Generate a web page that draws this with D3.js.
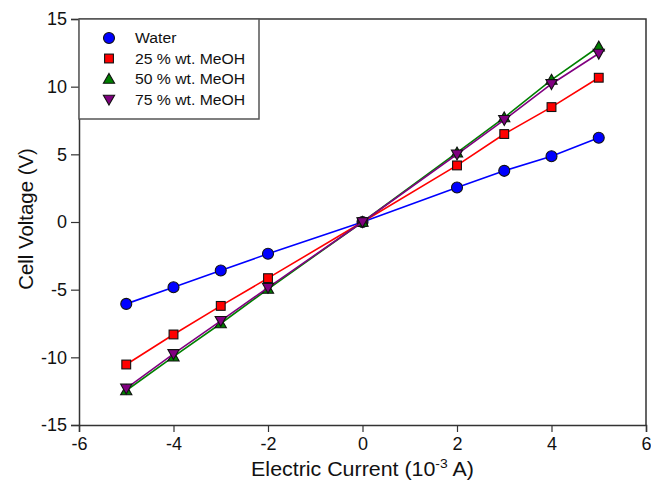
<!DOCTYPE html>
<html>
<head>
<meta charset="utf-8">
<script src="https://cdn.jsdelivr.net/npm/d3@7"></script>
<style>
  body { margin: 0; background: #fff; }
  text { font-family: "Liberation Sans", Arial, sans-serif; }
</style>
</head>
<body>
<div id="chart"></div>
<script>
// Data
const current = [-5, -4, -3, -2, 0, 2, 3, 4, 5];
const water   = [-6.05, -4.82, -3.58, -2.35, 0, 2.55, 3.78, 4.86, 6.22];
const meoh25  = [-10.53, -8.31, -6.2, -4.15, 0, 4.18, 6.5, 8.49, 10.66];
const meoh50  = [-12.45, -9.95, -7.5, -4.95, 0, 5.12, 7.72, 10.5, 12.95];
const meoh75  = [-12.3, -9.75, -7.3, -4.85, 0, 5.0, 7.55, 10.2, 12.45];
const seriesNames = ["Water", "25 % wt. MeOH", "50 % wt. MeOH", "75 % wt. MeOH"];
const xTicks = [-6, -4, -2, 0, 2, 4, 6];
const yTicks = [-15, -10, -5, 0, 5, 10, 15];

const width = 651, height = 485;
const margin = {top: 19, left: 79, right: 5, bottom: 60};

const svg = d3.select("#chart").append("svg")
  .attr("width", width)
  .attr("height", height);

const x = d3.scaleLinear().domain([-6, 6]).range([margin.left, width - margin.right]);
const y = d3.scaleLinear().domain([-15, 15]).range([height - margin.bottom, margin.top]);

const series = [
  {name: seriesNames[0], values: water,  color: "#0000ff", symbol: "circle"},
  {name: seriesNames[1], values: meoh25, color: "#ff0000", symbol: "square"},
  {name: seriesNames[2], values: meoh50, color: "#008000", symbol: "up"},
  {name: seriesNames[3], values: meoh75, color: "#800080", symbol: "down"}
];

// frame (top and right)
svg.append("path")
  .attr("d", `M${x(-6)},${y(15)}H${x(6)}V${y(-15)}`)
  .attr("fill", "none")
  .attr("stroke", "#333")
  .attr("stroke-width", 1.5);

// axes
const xAxis = svg.append("g")
  .attr("transform", `translate(0,${y(-15)})`)
  .call(d3.axisBottom(x).tickValues(xTicks).tickSize(7).tickPadding(5));
const yAxis = svg.append("g")
  .attr("transform", `translate(${x(-6)},0)`)
  .call(d3.axisLeft(y).tickValues(yTicks).tickSize(8).tickPadding(4));

[xAxis, yAxis].forEach(a => {
  a.select(".domain").attr("stroke", "#333").attr("stroke-width", 1.5);
  a.selectAll(".tick line").attr("stroke", "#333").attr("stroke-width", 1.2);
  a.selectAll(".tick text")
    .attr("fill", "#111")
    .style("font-size", "18px")
    .style("font-family", "'Liberation Sans', Arial, sans-serif")
    .text(d => d < 0 ? "-" + Math.abs(d) : d);
});

// axis titles
svg.append("text")
  .attr("transform", `translate(${x(0)},476) scale(1.07,1)`)
  .attr("text-anchor", "middle")
  .style("font-size", "20px")
  .attr("fill", "#111")
  .call(t => {
    t.append("tspan").text("Electric Current (10");
    t.append("tspan").attr("dy", -8).style("font-size", "13px").text("-3");
    t.append("tspan").attr("dy", 8).text(" A)");
  });

svg.append("text")
  .attr("transform", `translate(33,219) rotate(-90) scale(1.02,1)`)
  .attr("text-anchor", "middle")
  .style("font-size", "20px")
  .attr("fill", "#111")
  .text("Cell Voltage (V)");

// marker shapes
function marker(sel, symbol, color, cx, cy) {
  if (symbol === "circle") {
    sel.append("circle").attr("cx", cx).attr("cy", cy).attr("r", 5.5);
  } else if (symbol === "square") {
    sel.append("rect").attr("x", cx - 4.4).attr("y", cy - 4.4).attr("width", 8.8).attr("height", 8.8);
  } else if (symbol === "up") {
    sel.append("path").attr("d", `M${cx},${cy - 5.6}L${cx + 5.6},${cy + 4.3}L${cx - 5.6},${cy + 4.3}Z`);
  } else {
    sel.append("path").attr("d", `M${cx},${cy + 5.6}L${cx + 5.6},${cy - 4.3}L${cx - 5.6},${cy - 4.3}Z`);
  }
  sel.selectAll("*")
    .attr("fill", color)
    .attr("stroke", "#111")
    .attr("stroke-width", 1.1);
}

const line = d3.line().x(d => x(d[0])).y(d => y(d[1]));

series.forEach(s => {
  const pts = current.map((c, i) => [c, s.values[i]]);
  svg.append("path")
    .attr("d", line(pts))
    .attr("fill", "none")
    .attr("stroke", s.color)
    .attr("stroke-width", 1.6);
  const g = svg.append("g");
  pts.forEach(p => marker(g.append("g"), s.symbol, s.color, x(p[0]), y(p[1])));
});

// legend
const legend = svg.append("g");
legend.append("rect")
  .attr("x", 79).attr("y", 19)
  .attr("width", 180).attr("height", 100)
  .attr("fill", "#fff")
  .attr("stroke", "#555")
  .attr("stroke-width", 1.5);

series.forEach((s, i) => {
  const ly = 38 + i * 20.5;
  marker(legend.append("g"), s.symbol, s.color, 109, ly);
  legend.append("text")
    .attr("transform", `translate(135,${ly + 5}) scale(1.05,1)`)
    .style("font-size", "15px")
    .attr("fill", "#111")
    .text(s.name);
});
</script>
</body>
</html>
